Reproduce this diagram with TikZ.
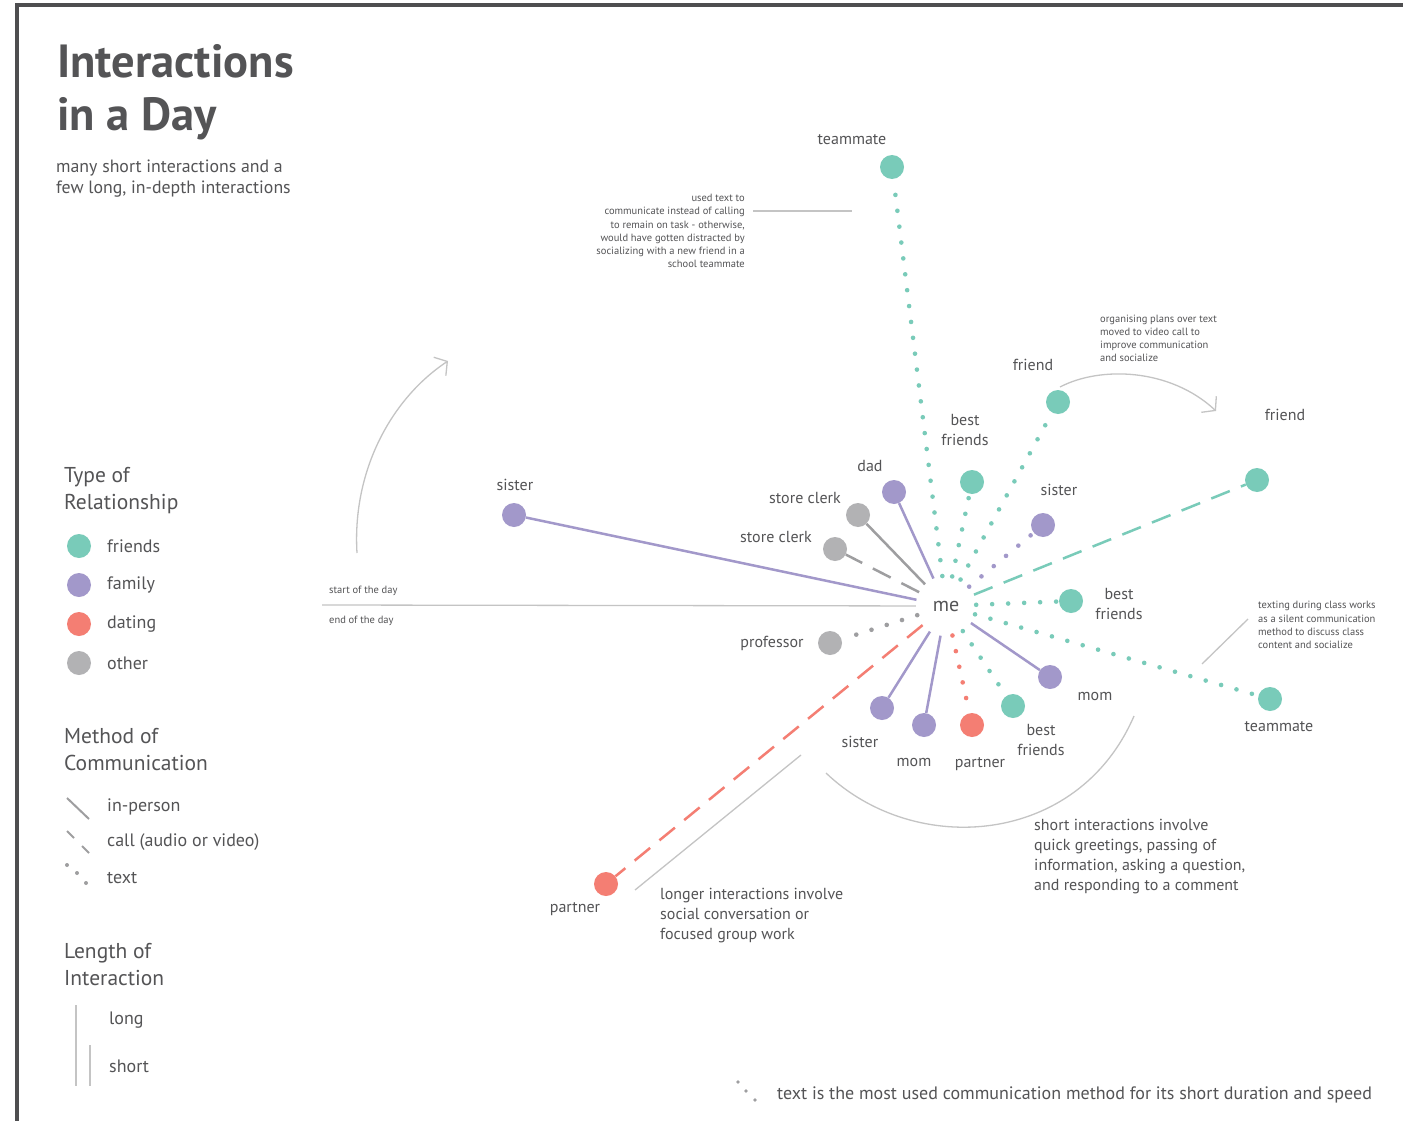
\documentclass[tikz,border=0pt]{standalone}
\usepackage{fontspec}
\setmainfont{PT Sans}
\usetikzlibrary{arrows.meta}
\definecolor{ink}{HTML}{545456}
\definecolor{framec}{HTML}{4E4E50}
\definecolor{tealc}{HTML}{79CBB9}
\definecolor{purplec}{HTML}{A298CA}
\definecolor{redc}{HTML}{F47E73}
\definecolor{grayc}{HTML}{B2B2B4}
\definecolor{linkgray}{HTML}{9E9EA0}
\definecolor{guidegray}{HTML}{C4C4C4}
\begin{document}
\begin{tikzpicture}[x=1pt,y=-1pt,
  person/.style={circle,minimum size=24pt,inner sep=0pt},
  friendc/.style={person,fill=tealc},
  familyc/.style={person,fill=purplec},
  datingc/.style={person,fill=redc},
  otherc/.style={person,fill=grayc},
  lbl/.style={text=ink,inner sep=0pt,font=\fontsize{16}{20}\selectfont,align=center},
  legtxt/.style={text=ink,inner sep=0pt,anchor=west,font=\fontsize{18}{22}\selectfont},
  leghead/.style={text=ink,inner sep=0pt,anchor=west,align=left,font=\fontsize{21.5}{27}\selectfont},
  note/.style={text=ink,inner sep=0pt,font=\fontsize{10.5}{13.2}\selectfont},
  body/.style={text=ink,inner sep=0pt,anchor=west,align=left,font=\fontsize{16}{20}\selectfont},
  solidlink/.style={line width=2.5pt},
  calllink/.style={line width=2.5pt,dash pattern=on 20pt off 12pt},
  textlink/.style={line width=4.6pt,line cap=round,dash pattern=on 0pt off 16pt},
  guide/.style={draw=guidegray,line width=1.3pt},
  barb/.style={-{Straight Barb[length=9pt,width=22pt,line width=1.3pt]}}
]
\useasboundingbox (0,0) rectangle (1403,1121);
\fill[white] (0,0) rectangle (1403,1121);

% page frame
\draw[framec,line width=4pt] (17,1121) -- (17,5.5) -- (1403,5.5);

% title block
\node[text=ink,inner sep=0pt,anchor=base west,font=\fontsize{46.5}{53}\bfseries] (title1) at (57,78) {Interactions};
\node[text=ink,inner sep=0pt,anchor=base west,font=\fontsize{46.5}{53}\bfseries] (title2) at (57,131) {in a Day};
\node[body,font=\fontsize{17.8}{21}\selectfont] (subtitle) at (56,179) {many short interactions and a\\few long, in-depth interactions};

% legend: type of relationship
\node[leghead] (h1) at (64,490.5) {Type of\\Relationship};
\node[friendc] (lf) at (79,546) {};
\node[familyc] (lfa) at (79,585) {};
\node[datingc] (ld) at (79,624) {};
\node[otherc] (lo) at (79,663) {};
\node[legtxt] (lft) at (107,546) {friends};
\node[legtxt] (lfat) at (107,585) {family};
\node[legtxt] (ldt) at (107,624) {dating};
\node[legtxt] (lot) at (107,663) {other};

% legend: method of communication
\node[leghead] (h2) at (64,749.5) {Method of\\Communication};
\draw[linkgray,line width=2pt] (67,798) -- (89,819);
\draw[linkgray,line width=2pt] (67,831) -- (74,838);
\draw[linkgray,line width=2pt] (82,846) -- (89,853);
\fill[linkgray] (67,865) circle (2pt) (77,873) circle (2pt) (86,883) circle (2pt);
\node[legtxt] (lip) at (107,807) {in-person};
\node[legtxt] (lcall) at (107,842) {call (audio or video)};
\node[legtxt] (ltext) at (107,878) {text};

% legend: length of interaction
\node[leghead] (h3) at (64,964.5) {Length of\\Interaction};
\draw[guidegray,line width=2.5pt] (76,1005) -- (76,1086);
\draw[guidegray,line width=2.5pt] (90,1045) -- (90,1086);
\node[legtxt] (llong) at (109,1020) {long};
\node[legtxt] (lshort) at (109,1066) {short};

% centre
\node[circle,minimum size=60pt,inner sep=0pt,text=ink,font=\fontsize{20}{24}\selectfont] (me) at (946,606) {me};

% timeline
\coordinate (tstart) at (322,605);
\draw[guide] (tstart) -- (me);
\node[note,anchor=west] (sday) at (329,591) {start of the day};
\node[note,anchor=west] (eday) at (329,621) {end of the day};
\draw[guide,barb] (357,553) .. controls (352,470) and (392,398) .. (448,361);

% people
\node[friendc] (tm1) at (892,167) {};
\node[friendc] (fr1) at (1058,402) {};
\node[friendc] (fr2) at (1257,480) {};
\node[friendc] (bf1) at (972,482) {};
\node[friendc] (bf2) at (1071,601) {};
\node[friendc] (tm2) at (1270,699) {};
\node[friendc] (bf3) at (1013,706) {};
\node[familyc] (sis1) at (514,515) {};
\node[familyc] (dad) at (894,492) {};
\node[familyc] (sis2) at (1043,525) {};
\node[familyc] (mom1) at (1050,677) {};
\node[familyc] (mom2) at (924,725) {};
\node[familyc] (sis3) at (882,708) {};
\node[otherc] (clerk1) at (858,515) {};
\node[otherc] (clerk2) at (835,549) {};
\node[otherc] (prof) at (830,643) {};
\node[datingc] (pt1) at (972,725) {};
\node[datingc] (pt2) at (606,884) {};

% connections
\draw[textlink,tealc] (me) -- (tm1);
\draw[textlink,tealc] (me) -- (bf1);
\draw[textlink,tealc] (me) -- (fr1);
\draw[textlink,purplec] (me) -- (sis2);
\draw[calllink,tealc] (me) -- (fr2);
\draw[solidlink,purplec] (me) -- (dad);
\draw[solidlink,linkgray] (me) -- (clerk1);
\draw[calllink,linkgray] (me) -- (clerk2);
\draw[solidlink,purplec] (me) -- (sis1);
\draw[textlink,tealc] (me) -- (bf2);
\draw[textlink,tealc] (me) -- (tm2);
\draw[solidlink,purplec] (me) -- (mom1);
\draw[textlink,tealc] (me) -- (bf3);
\draw[textlink,redc] (me) -- (pt1);
\draw[solidlink,purplec] (me) -- (mom2);
\draw[solidlink,purplec] (me) -- (sis3);
\draw[textlink,linkgray] (me) -- (prof);
\draw[calllink,redc] (me) -- (pt2);

% names
\node[lbl] at (852,140) {teammate};
\node[lbl] at (1033,365) {friend};
\node[lbl] at (1285,415) {friend};
\node[lbl] at (965,430) {best\\friends};
\node[lbl] at (870,466) {dad};
\node[lbl] at (805,498) {store clerk};
\node[lbl] at (776,537) {store clerk};
\node[lbl] at (515,485) {sister};
\node[lbl] at (1059,490) {sister};
\node[lbl] at (1119,604) {best\\friends};
\node[lbl] at (1279,727) {teammate};
\node[lbl] at (1095,696) {mom};
\node[lbl] at (1041,740) {best\\friends};
\node[lbl] at (980,764) {partner};
\node[lbl] at (914,762) {mom};
\node[lbl] at (860,742) {sister};
\node[lbl] at (772,643) {professor};
\node[lbl] at (575,909) {partner};

% annotations
\node[note,anchor=east,align=right] (ann1) at (745,231) {used text to\\communicate instead of calling\\to remain on task - otherwise,\\would have gotten distracted by\\socializing with a new friend in a\\school teammate};
\draw[guide] (753,211) -- (852,211);

\node[note,anchor=west,align=left] (ann2) at (1100,338.5) {organising plans over text\\moved to video call to\\improve communication\\and socialize};
\draw[guide,barb] (1060,387) .. controls (1100,366) and (1170,368) .. (1216,411);

\node[note,anchor=west,align=left] (ann3) at (1258,625) {texting during class works\\as a silent communication\\method to discuss class\\content and socialize};
\draw[guide] (1202,664) -- (1248,619);

\draw[guide] (635,890) -- (801,755);
\node[body] (longnote) at (660,916) {longer interactions involve\\social conversation or\\focused group work};

\draw[guide] (826,773) .. controls (915,858) and (1078,846) .. (1134,716);
\node[body] (shortnote) at (1034,857) {short interactions involve\\quick greetings, passing of\\information, asking a question,\\and responding to a comment};

% footnote
\fill[linkgray] (738,1082) circle (1.8pt) (746,1091) circle (1.8pt) (755,1100) circle (1.8pt);
\node[body,font=\fontsize{18}{21}\selectfont] (foot) at (777,1095) {text is the most used communication method for its short duration and speed};
\end{tikzpicture}
\end{document}
